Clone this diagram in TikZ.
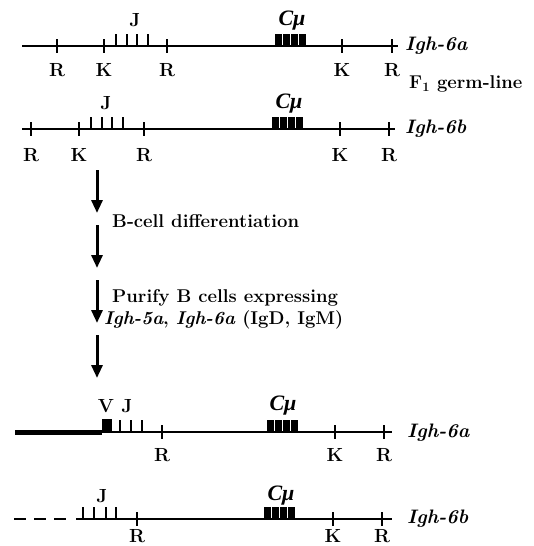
\documentclass[tikz,border=0pt]{standalone}
\usepackage{fontspec}
\setmainfont{Latin Modern Roman}
\newfontfamily\greekserif{Liberation Serif}
\usetikzlibrary{arrows.meta}
\newcommand\lblsize{\fontsize{19}{21}\selectfont}
\newcommand\cmusize{\fontsize{22}{24}\selectfont}
\newcommand\txtsize{\fontsize{18.5}{21}\selectfont}
\newcommand\genesize{\fontsize{19.5}{22}\selectfont}
\newcommand\Cmu{{\greekserif\bfseries\itshape Cμ}}
\tikzset{
  chrom/.style={line width=1.8pt},
  thickchrom/.style={line width=5pt},
  rsite/.style={line width=1.6pt},
  jseg/.style={line width=2.4pt},
  lab/.style={font=\bfseries\lblsize, inner sep=0pt},
  cmulab/.style={font=\cmusize, inner sep=0pt},
  gene/.style={font=\bfseries\itshape\genesize, inner sep=0pt, anchor=west},
  note/.style={font=\bfseries\txtsize, inner sep=0pt, anchor=west},
  flow/.style={line width=3pt, -{Triangle[length=13pt,width=11pt]}},
}
% restriction site tick: x, y
\newcommand\rtick[2]{\draw[rsite] (#1,#2-7) -- (#1,#2+7);}
% J segment: x, y
\newcommand\jtick[2]{\draw[jseg] (#1,#2) -- (#1,#2-12);}
% C mu block: x0, y (four boxes, 8 px each)
\newcommand\cmu[2]{%
  \foreach \i in {0,1,2,3}{\fill ({#1+\i*8},#2+1) rectangle ({#1+\i*8+7},#2-12);}}
\begin{document}
\begin{tikzpicture}[x=1pt,y=-1pt]
\useasboundingbox (0,0) rectangle (534,546);
% ---------- line 1 : Igh-6a germ-line
\coordinate (a1) at (22,46);
\coordinate (a2) at (398,46);
\draw[chrom] (a1) -- (a2);
\rtick{57}{46}\rtick{104}{46}\rtick{167}{46}\rtick{342}{46}\rtick{392}{46}
\jtick{116}{46}\jtick{127}{46}\jtick{137}{46}\jtick{148}{46}
\cmu{275}{46}
\node[lab] (j1) at (135,20) {J};
\node[cmulab] (c1) at (292,21) {\Cmu};
\node[lab] (r11) at (57,70) {R};
\node[lab] (k11) at (104,70) {K};
\node[lab] (r12) at (167,70) {R};
\node[lab] (k12) at (342,70) {K};
\node[lab] (r13) at (392,70) {R};
\node[gene] (g1) at (405,46) {Igh-6a};
\node[note] (f1) at (409,84) {F\textsubscript{1} germ-line};
% ---------- line 2 : Igh-6b germ-line
\coordinate (b1) at (22,129);
\coordinate (b2) at (395,129);
\draw[chrom] (b1) -- (b2);
\rtick{31}{129}\rtick{79}{129}\rtick{144}{129}\rtick{340}{129}\rtick{389}{129}
\jtick{91}{129}\jtick{102}{129}\jtick{112}{129}\jtick{123}{129}
\cmu{272}{129}
\node[lab] (j2) at (106,103) {J};
\node[cmulab] (c2) at (289,104) {\Cmu};
\node[lab] (r21) at (31,155) {R};
\node[lab] (k21) at (79,155) {K};
\node[lab] (r22) at (144,155) {R};
\node[lab] (k22) at (340,155) {K};
\node[lab] (r23) at (389,155) {R};
\node[gene] (g2) at (405,129) {Igh-6b};
% ---------- flow arrows
\coordinate (s1) at (97,170); \coordinate (e1) at (97,213);
\coordinate (s2) at (97,225); \coordinate (e2) at (97,268);
\coordinate (s3) at (97,280); \coordinate (e3) at (97,323);
\coordinate (s4) at (97,335); \coordinate (e4) at (97,378);
\draw[flow] (s1) -- (e1);
\draw[flow] (s2) -- (e2);
\draw[flow] (s3) -- (e3);
\draw[flow] (s4) -- (e4);
\node[note] (t1) at (112,221) {B-cell differentiation};
\node[note] (t2) at (112,298) {Purify B cells expressing};
\node[note] (t3) at (104,320) {\textit{Igh-5a}, \textit{Igh-6a} (IgD, IgM)};
% ---------- line 3 : rearranged Igh-6a
\coordinate (c31) at (15,432);
\coordinate (c32) at (102,432);
\coordinate (c33) at (392,432);
\draw[thickchrom] (c31) -- (c32);
\draw[chrom] (c32) -- (c33);
\fill (102,433) rectangle (112,419);
\rtick{162}{432}\rtick{335}{432}\rtick{384}{432}
\jtick{120}{432}\jtick{131}{432}\jtick{142}{432}
\cmu{267}{432}
\node[lab] (v3) at (106,406) {V};
\node[lab] (j3) at (127,406) {J};
\node[cmulab] (c3) at (283,406) {\Cmu};
\node[lab] (r31) at (162,455) {R};
\node[lab] (k31) at (335,455) {K};
\node[lab] (r32) at (384,455) {R};
\node[gene] (g3) at (407,433) {Igh-6a};
% ---------- line 4 : Igh-6b allele in B cell
\coordinate (d0) at (14,519);
\coordinate (d1) at (68,519);
\coordinate (d2) at (392,519);
\draw[chrom, dash pattern=on 12pt off 8pt] (d0) -- (d1);
\draw[chrom] (76,519) -- (d2);
\rtick{137}{519}\rtick{333}{519}\rtick{382}{519}
\jtick{83}{519}\jtick{94}{519}\jtick{106}{519}\jtick{116}{519}
\cmu{264}{519}
\node[lab] (j4) at (102,496) {J};
\node[cmulab] (c4) at (281,496) {\Cmu};
\node[lab] (r41) at (137,536) {R};
\node[lab] (k41) at (333,536) {K};
\node[lab] (r42) at (382,536) {R};
\node[gene] (g4) at (407,519) {Igh-6b};
\end{tikzpicture}
\end{document}
